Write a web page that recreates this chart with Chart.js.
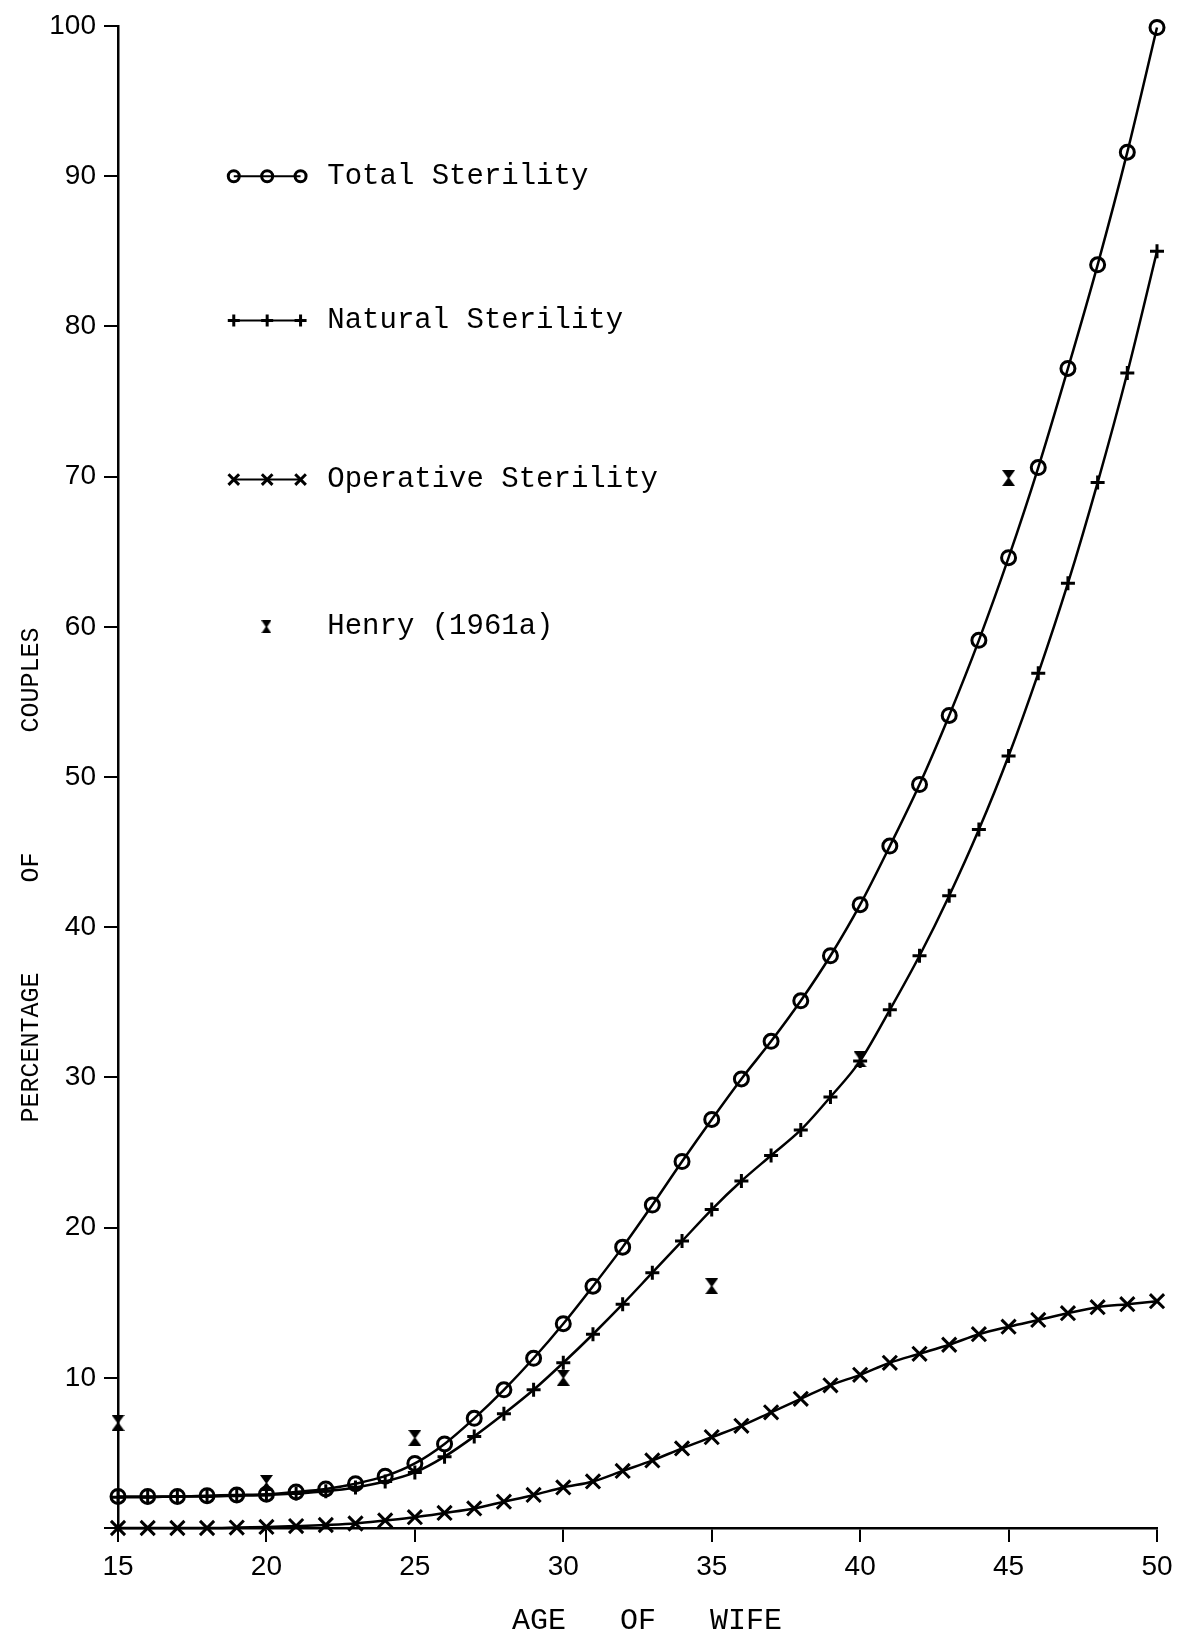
<!DOCTYPE html>
<html>
<head>
<meta charset="utf-8">
<script src="https://cdn.jsdelivr.net/npm/chart.js@4.4.0/dist/chart.umd.min.js"></script>
<style>
  html, body { margin: 0; padding: 0; background: #fff; }
  #wrap { width: 1183px; height: 1638px; position: relative; }
</style>
</head>
<body>
<div id="wrap"><canvas id="sterility"></canvas></div>
<script>
// ages of wife, one point per year
const ages = [15, 16, 17, 18, 19, 20, 21, 22, 23, 24, 25, 26, 27, 28, 29, 30, 31, 32,
  33, 34, 35, 36, 37, 38, 39, 40, 41, 42, 43, 44, 45, 46, 47, 48, 49, 50];

const totalSterility = [2.1, 2.1, 2.1, 2.15, 2.2, 2.25, 2.4, 2.6, 2.95, 3.45, 4.3, 5.6,
  7.3, 9.2, 11.3, 13.6, 16.1, 18.7, 21.5, 24.4, 27.2, 29.9, 32.4, 35.1, 38.1, 41.5,
  45.4, 49.5, 54.1, 59.1, 64.6, 70.6, 77.2, 84.1, 91.6, 99.9];

const naturalSterility = [2.05, 2.05, 2.1, 2.1, 2.15, 2.2, 2.3, 2.45, 2.7, 3.1, 3.7, 4.75,
  6.1, 7.6, 9.2, 11.0, 12.9, 14.9, 17.0, 19.1, 21.2, 23.1, 24.8, 26.5, 28.7, 31.1,
  34.5, 38.1, 42.1, 46.5, 51.4, 56.9, 62.9, 69.6, 76.9, 85.0];

const operativeSterility = [0, 0, 0, 0, 0.03, 0.07, 0.13, 0.2, 0.3, 0.5, 0.72, 1.0,
  1.3, 1.75, 2.2, 2.7, 3.1, 3.8, 4.5, 5.3, 6.05, 6.8, 7.7, 8.6, 9.5, 10.2,
  11.0, 11.6, 12.2, 12.9, 13.4, 13.85, 14.3, 14.7, 14.9, 15.1];

// Henry (1961a) observations
const henryAges = [15, 20, 25, 30, 35, 40, 45];
const henryValues = [7.0, 3.0, 6.0, 10.0, 16.1, 31.2, 69.9];

const xTicks = [15, 20, 25, 30, 35, 40, 45, 50];
const yTicks = [0, 10, 20, 30, 40, 50, 60, 70, 80, 90, 100];

const tickFont = { family: "'Liberation Sans', Arial, sans-serif", size: 28 };
const textFamily = "'Liberation Mono', 'DejaVu Sans Mono', monospace";

// hourglass marker for Henry points
function hourglass(w, h) {
  const c = document.createElement('canvas');
  c.width = w; c.height = h;
  const g = c.getContext('2d');
  g.fillStyle = '#000';
  g.beginPath(); g.moveTo(0, 0); g.lineTo(w, 0); g.lineTo(w / 2, h / 2 + 1); g.closePath(); g.fill();
  g.beginPath(); g.moveTo(0, h); g.lineTo(w, h); g.lineTo(w / 2, h / 2 - 1); g.closePath(); g.fill();
  return c;
}
const henryMark = hourglass(13, 16);
const henryMarkSmall = hourglass(10, 13);

function toPoints(xs, ys) {
  return xs.map((x, i) => ({ x: x, y: ys[i] }));
}

// legend rows + axis titles, drawn over the plot
const overlayPlugin = {
  id: 'overlay',
  afterDatasetsDraw(chart) {
    const ctx = chart.ctx;
    const xs = chart.scales.x, ys = chart.scales.y;
    const rows = [
      { text: 'Total Sterility', y: 90.0, style: 'circle', r: 5.5 },
      { text: 'Natural Sterility', y: 80.4, style: 'cross', r: 6 },
      { text: 'Operative Sterility', y: 69.8, style: 'crossRot', r: 7.5 },
      { text: 'Henry (1961a)', y: 60.0, style: henryMarkSmall, r: 6, single: true }
    ];
    const x0 = xs.getPixelForValue(18.9), x1 = xs.getPixelForValue(21.15);
    const tx = xs.getPixelForValue(22.05);
    ctx.save();
    ctx.strokeStyle = '#000';
    ctx.fillStyle = 'rgba(0,0,0,0)';
    rows.forEach(row => {
      const py = ys.getPixelForValue(row.y);
      const opts = { pointStyle: row.style, radius: row.r, rotation: 0, borderWidth: 3 };
      ctx.lineWidth = 3;
      if (row.single) {
        Chart.helpers.drawPoint(ctx, opts, xs.getPixelForValue(20.0), py);
      } else {
        ctx.beginPath();
        ctx.moveTo(x0, py); ctx.lineTo(x1, py);
        ctx.lineWidth = 2;
        ctx.stroke();
        ctx.lineWidth = 3;
        [x0, (x0 + x1) / 2, x1].forEach(px => Chart.helpers.drawPoint(ctx, opts, px, py));
      }
      ctx.fillStyle = '#000';
      ctx.font = '29px ' + textFamily;
      ctx.textAlign = 'left';
      ctx.textBaseline = 'middle';
      ctx.fillText(row.text, tx, py);
      ctx.fillStyle = 'rgba(0,0,0,0)';
    });

    // axis titles
    ctx.fillStyle = '#000';
    ctx.font = '30px ' + textFamily;
    ctx.textAlign = 'center';
    ctx.textBaseline = 'middle';
    ctx.fillText('AGE   OF   WIFE', 647, 1621);
    ctx.translate(31, 875);
    ctx.rotate(-Math.PI / 2);
    ctx.font = '25px ' + textFamily;
    ctx.fillText('PERCENTAGE      OF        COUPLES', 0, 0);
    ctx.restore();
  }
};

const lineStyle = {
  borderColor: '#000',
  backgroundColor: 'rgba(0,0,0,0)',
  pointBorderColor: '#000',
  pointBackgroundColor: 'rgba(0,0,0,0)',
  borderWidth: 2.5,
  pointBorderWidth: 3,
  cubicInterpolationMode: 'monotone',
  fill: false,
  clip: false
};

new Chart(document.getElementById('sterility'), {
  type: 'line',
  data: {
    datasets: [
      Object.assign({ label: 'Total Sterility', data: toPoints(ages, totalSterility),
        pointStyle: 'circle', pointRadius: 7 }, lineStyle),
      Object.assign({ label: 'Natural Sterility', data: toPoints(ages, naturalSterility),
        pointStyle: 'cross', pointRadius: 7 }, lineStyle),
      Object.assign({ label: 'Operative Sterility', data: toPoints(ages, operativeSterility),
        pointStyle: 'crossRot', pointRadius: 10 }, lineStyle),
      {
        label: 'Henry (1961a)',
        data: toPoints(henryAges, henryValues),
        showLine: false,
        pointStyle: henryMark,
        pointRadius: 8,
        clip: false
      }
    ]
  },
  options: {
    responsive: true,
    maintainAspectRatio: false,
    devicePixelRatio: 1,
    animation: false,
    layout: { padding: { left: 0, right: 26, top: 26, bottom: 0 } },
    plugins: {
      legend: { display: false },
      tooltip: { enabled: false }
    },
    scales: {
      x: {
        type: 'linear',
        min: 15,
        max: 50,
        afterBuildTicks(s) { s.ticks = xTicks.map(v => ({ value: v })); },
        ticks: { font: tickFont, color: '#000', padding: 8, maxRotation: 0 },
        grid: { drawOnChartArea: false, drawTicks: true, tickLength: 14, color: '#000', lineWidth: 2 },
        border: { display: true, color: '#000', width: 2.5 },
        afterFit(s) { s.height = 110; }
      },
      y: {
        min: 0,
        max: 100,
        afterBuildTicks(s) { s.ticks = yTicks.map(v => ({ value: v })); },
        ticks: {
          font: tickFont, color: '#000', padding: 8,
          callback: v => (v === 0 ? '' : v)
        },
        grid: { drawOnChartArea: false, drawTicks: true, tickLength: 14, color: '#000', lineWidth: 2 },
        border: { display: true, color: '#000', width: 2.5 },
        afterFit(s) { s.width = 118; }
      }
    }
  },
  plugins: [overlayPlugin]
});
</script>
</body>
</html>
